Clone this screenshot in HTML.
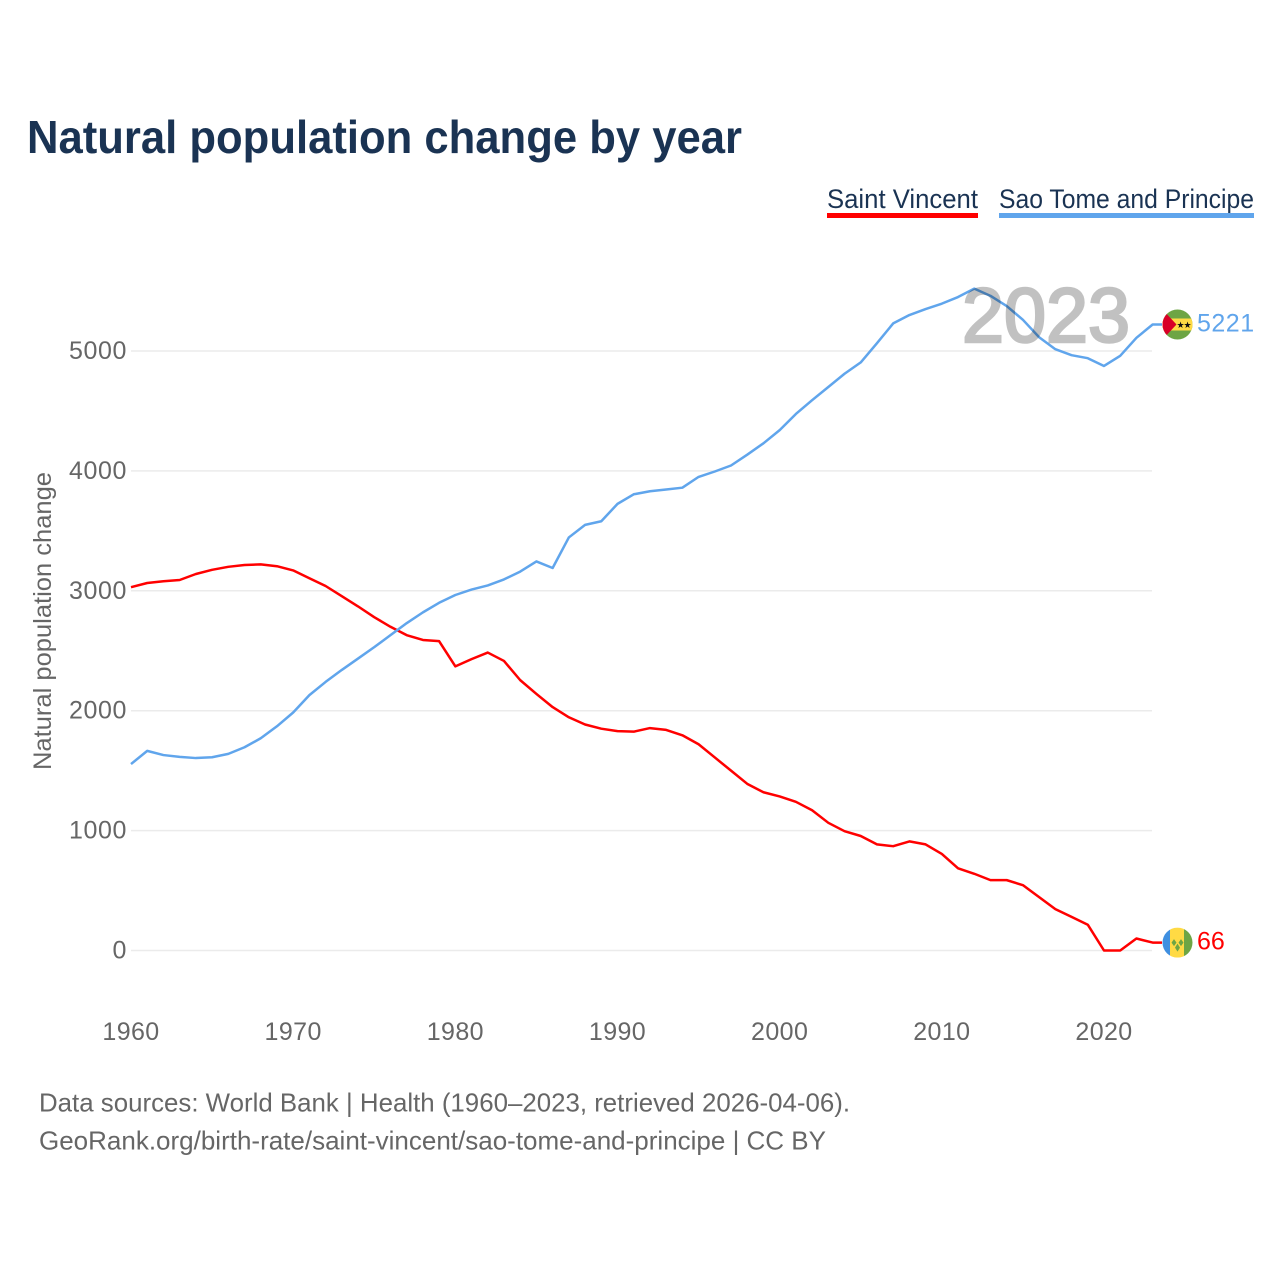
<!DOCTYPE html>
<html lang="en">
<head>
<meta charset="utf-8">
<title>Natural population change by year</title>
<style>
html,body{margin:0;padding:0;background:#fff;}
svg{display:block;font-family:"Liberation Sans",sans-serif;}
</style>
</head>
<body>
<svg id="chart" xmlns="http://www.w3.org/2000/svg" width="1280" height="1280" viewBox="0 0 1280 1280">
  <rect x="0" y="0" width="1280" height="1280" fill="#ffffff"/>
  <text x="27" y="153" font-size="46" font-weight="700" fill="#1a3353" textLength="715" lengthAdjust="spacingAndGlyphs">Natural population change by year</text>
  <g>
    <text x="827" y="208" font-size="27" fill="#1a3353" textLength="151" lengthAdjust="spacingAndGlyphs">Saint Vincent</text>
    <rect x="827" y="213" width="151" height="5" fill="#ff0000"/>
  </g>
  <g>
    <text x="999" y="208" font-size="27" fill="#1a3353" textLength="255" lengthAdjust="spacingAndGlyphs">Sao Tome and Principe</text>
    <rect x="999" y="213" width="255" height="5" fill="#60a5ec"/>
  </g>
  <g id="grid"></g>
  <g id="yticks"></g>
  <g id="xticks"></g>
  <text transform="translate(51 621) rotate(-90)" text-anchor="middle" font-size="25" fill="#666666" textLength="298" lengthAdjust="spacingAndGlyphs">Natural population change</text>
  <g id="series"></g>
  <text x="962" y="342" font-size="77" font-weight="400" fill="#000000" stroke="#000000" stroke-width="2.6" opacity="0.24" textLength="168" lengthAdjust="spacingAndGlyphs">2023</text>
  <g id="flag-stp">
    <clipPath id="clip-stp"><circle cx="0" cy="0" r="15"/></clipPath>
    <g clip-path="url(#clip-stp)">
      <rect x="-15" y="-15" width="30" height="30" fill="#6da544"/>
      <rect x="-15" y="-6" width="30" height="12" fill="#ffda44"/>
      <path d="M-15,-15 L-1,0 L-15,15 Z" fill="#d80027"/>
    </g>
    <text x="3" y="3.5" font-size="9" text-anchor="middle" fill="#111111">★</text>
    <text x="10" y="3.5" font-size="9" text-anchor="middle" fill="#111111">★</text>
  </g>
  <g id="flag-svg">
    <clipPath id="clip-svg"><circle cx="0" cy="0" r="15"/></clipPath>
    <g clip-path="url(#clip-svg)">
      <rect x="-15" y="-15" width="7.5" height="30" fill="#3f8fe0"/>
      <rect x="-7.5" y="-15" width="14" height="30" fill="#ffda44"/>
      <rect x="6.5" y="-15" width="8.5" height="30" fill="#6da544"/>
      <path d="M-3.5,-3.5 L-1,0 L-3.5,3.5 L-6,0 Z M3.5,-3.5 L6,0 L3.5,3.5 L1,0 Z M0,1 L2.5,5 L0,9 L-2.5,5 Z" fill="#6da544"/>
    </g>
  </g>
  <text id="end-label-stp" x="1197" font-size="25" letter-spacing="0.5" fill="#60a5ec"></text>
  <text id="end-label-svg" x="1197" font-size="25" fill="#ff0000"></text>
  <text x="39" y="1111.5" font-size="26" fill="#666666" textLength="811" lengthAdjust="spacingAndGlyphs">Data sources: World Bank | Health (1960–2023, retrieved 2026-04-06).</text>
  <text x="39" y="1149.5" font-size="26" fill="#666666" textLength="787" lengthAdjust="spacingAndGlyphs">GeoRank.org/birth-rate/saint-vincent/sao-tome-and-principe | CC BY</text>
</svg>
<script>
const startYear = 1960;
const yTickValues = [0, 1000, 2000, 3000, 4000, 5000];
const xTickYears = [1960, 1970, 1980, 1990, 2000, 2010, 2020];
const saintVincent = [3030,3065,3080,3090,3140,3175,3200,3215,3220,3205,3170,3105,3040,2955,2870,2780,2700,2630,2590,2580,2370,2430,2485,2415,2255,2140,2030,1945,1885,1850,1830,1825,1855,1840,1795,1720,1610,1500,1390,1320,1285,1240,1170,1065,995,955,885,870,910,885,805,685,640,587,587,545,445,345,280,215,0,0,100,66];
const saoTome = [1555,1665,1630,1615,1605,1612,1640,1695,1770,1870,1985,2130,2240,2340,2435,2530,2630,2730,2820,2900,2965,3010,3045,3095,3160,3245,3190,3445,3550,3580,3725,3805,3830,3845,3860,3950,3995,4045,4135,4230,4340,4475,4590,4700,4810,4905,5065,5230,5300,5350,5395,5450,5520,5460,5375,5260,5115,5015,4965,4940,4875,4960,5110,5221];

const NS = 'http://www.w3.org/2000/svg';
function xScale(year) { return 131 + (year - 1960) * (1104 - 131) / 60; }
function yScale(v) { return 950.5 - v * (950.5 - 351) / 5000; }
function make(tag, parentId) {
  const el = document.createElementNS(NS, tag);
  document.getElementById(parentId).appendChild(el);
  return el;
}
yTickValues.forEach(function (v) {
  const line = make('line', 'grid');
  
  
  line.setAttribute('x1', 131);
  line.setAttribute('x2', 1152);
  line.setAttribute('y1', yScale(v));
  line.setAttribute('y2', yScale(v));
  line.setAttribute('stroke', '#ebebeb');
  line.setAttribute('stroke-width', '1.5');
  const label = make('text', 'yticks');
  
  
  label.setAttribute('x', 127);
  label.setAttribute('y', yScale(v) + 8);
  label.setAttribute('text-anchor', 'end');
  label.setAttribute('font-size', '25');
  label.setAttribute('letter-spacing', '0.6');
  label.setAttribute('fill', '#666666');
  label.textContent = String(v);
});
xTickYears.forEach(function (year) {
  const label = make('text', 'xticks');
  
  
  label.setAttribute('x', xScale(year));
  label.setAttribute('y', 1040);
  label.setAttribute('text-anchor', 'middle');
  label.setAttribute('font-size', '25');
  label.setAttribute('letter-spacing', '0.4');
  label.setAttribute('fill', '#666666');
  label.textContent = String(year);
});
function drawSeries(values, color, name) {
  const pts = values.map(function (v, i) {
    return xScale(startYear + i).toFixed(2) + ',' + yScale(v).toFixed(2);
  });
  const lastY = yScale(values[values.length - 1]).toFixed(2);
  pts.push('1162,' + lastY);
  const path = make('polyline', 'series');
  
  
  path.setAttribute('points', pts.join(' '));
  path.setAttribute('fill', 'none');
  path.setAttribute('stroke', color);
  path.setAttribute('stroke-width', '2.5');
  path.setAttribute('stroke-linejoin', 'round');
}
drawSeries(saintVincent, '#ff0000', 'line-saint-vincent');
drawSeries(saoTome, '#60a5ec', 'line-sao-tome');
const lastStp = saoTome[saoTome.length - 1];
const lastSvg = saintVincent[saintVincent.length - 1];
document.getElementById('flag-stp').setAttribute('transform', 'translate(1177.5 ' + yScale(lastStp) + ')');
document.getElementById('flag-svg').setAttribute('transform', 'translate(1177.5 ' + yScale(lastSvg) + ')');
const stpLabel = document.getElementById('end-label-stp');
stpLabel.setAttribute('y', yScale(lastStp) + 7);
stpLabel.textContent = String(lastStp);
const svgLabel = document.getElementById('end-label-svg');
svgLabel.setAttribute('y', yScale(lastSvg) + 7);
svgLabel.textContent = String(lastSvg);
</script>
</body>
</html>
